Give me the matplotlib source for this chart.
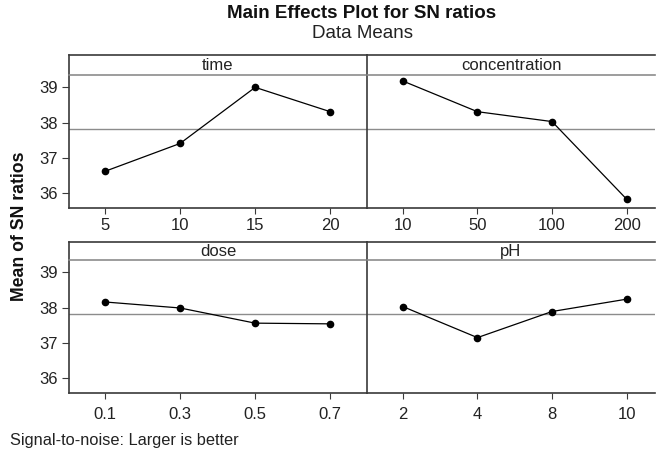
import matplotlib.pyplot as plt

plt.rcParams['font.family'] = ['Liberation Sans', 'DejaVu Sans']

factors = ['time', 'concentration', 'dose', 'pH']
levels = {
    'time': ['5', '10', '15', '20'],
    'concentration': ['10', '50', '100', '200'],
    'dose': ['0.1', '0.3', '0.5', '0.7'],
    'pH': ['2', '4', '8', '10'],
}
sn_means = {
    'time': [36.62, 37.41, 39.00, 38.31],
    'concentration': [39.18, 38.31, 38.03, 35.83],
    'dose': [38.16, 37.99, 37.56, 37.54],
    'pH': [38.03, 37.15, 37.89, 38.24],
}
grand_mean = 37.83
yticks = [36, 37, 38, 39]

W, H = 656, 451
fig = plt.figure(figsize=(W / 100, H / 100), dpi=100)


def box(x0, x1, ytop, ybot):
    return [x0 / W, 1 - ybot / H, (x1 - x0) / W, (ybot - ytop) / H]


# panel pixel positions: (left, right, plot top, plot bottom, strip top, label pad)
pos = {
    'time': (69, 367, 75, 208, 55, 3.5),
    'concentration': (367, 655, 75, 208, 55, 3.5),
    'dose': (69, 367, 260, 393, 242, 6),
    'pH': (367, 655, 260, 393, 242, 6),
}
edge = '#3a3a3a'

for f in factors:
    x0, x1, yt, yb, st, pad = pos[f]
    ax = fig.add_axes(box(x0, x1, yt, yb))
    xs = list(range(1, 5))
    ax.axhline(grand_mean, color='#8c8c8c', lw=1.0, zorder=1)
    ax.plot(xs, sn_means[f], color='black', lw=0.9, marker='o', ms=4.5, zorder=3)
    ax.set_ylim(35.58, 39.35)
    if x0 == 69:
        ax.set_xlim(0.52, 4.49)
        ax.set_yticks(yticks)
        ax.tick_params(axis='y', direction='out', length=5, labelsize=12, color=edge,
                       labelcolor='#222222', pad=3)
    else:
        ax.set_xlim(0.52, 4.38)
        ax.set_yticks([])
    ax.set_xticks(xs)
    ax.set_xticklabels(levels[f])
    ax.tick_params(axis='x', direction='out', length=4, labelsize=12, color=edge,
                   labelcolor='#222222', pad=pad)
    for s in ['top', 'right']:
        ax.spines[s].set_visible(False)
    ax.spines['left'].set_color(edge)
    ax.spines['bottom'].set_color(edge)
    ax.spines['left'].set_linewidth(1.2)
    ax.spines['bottom'].set_linewidth(1.2)

    sx = fig.add_axes(box(x0, x1, st, yt))
    sx.set_xticks([])
    sx.set_yticks([])
    sx.set_facecolor('white')
    for s in ['top', 'left']:
        sx.spines[s].set_color(edge)
        sx.spines[s].set_linewidth(1.2)
    sx.spines['right'].set_visible(False)
    sx.spines['bottom'].set_color('#8c8c8c')
    sx.spines['bottom'].set_linewidth(1.2)
    sx.text(0.5, 0.45, f, ha='center', va='center', fontsize=12, color='#222222',
            transform=sx.transAxes)

fig.text(362 / W, 1 - 14 / H, 'Main Effects Plot for SN ratios', ha='center', va='center',
         fontsize=13.5, fontweight='bold', color='#111111')
fig.text(362 / W, 1 - 33 / H, 'Data Means', ha='center', va='center', fontsize=13.5,
         color='#222222')
fig.text(20 / W, 1 - 226 / H, 'Mean of SN ratios', ha='center', va='center', rotation=90,
         fontsize=12.7, fontweight='bold', color='#111111')
fig.text(10 / W, 1 - 440 / H, 'Signal-to-noise: Larger is better', ha='left', va='center',
         fontsize=11.8, color='#222222')

fig.savefig('out.png', dpi=100)
